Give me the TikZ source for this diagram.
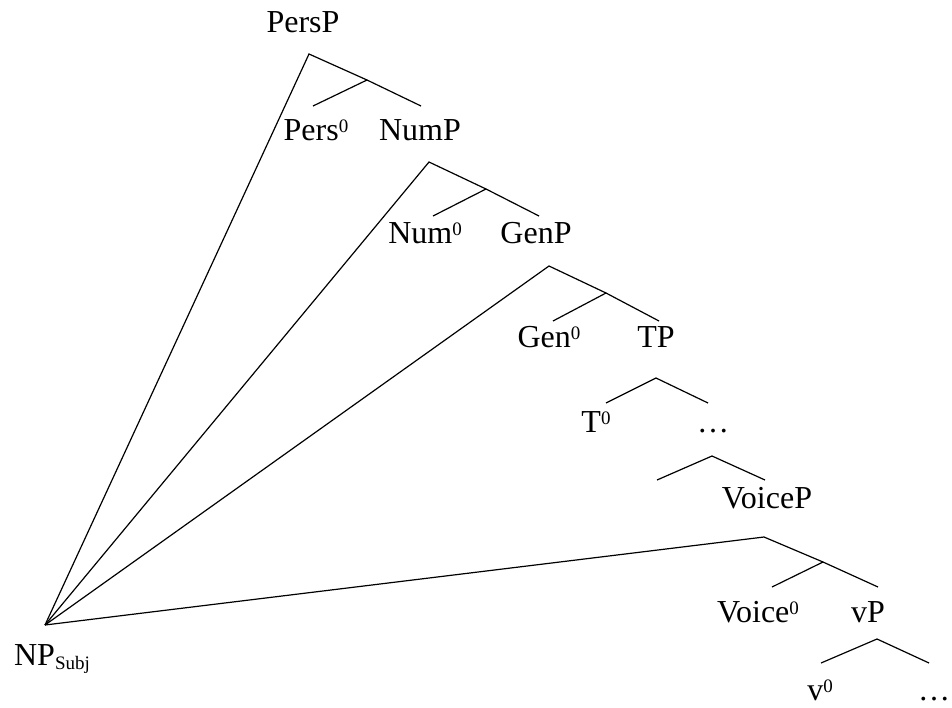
\documentclass[tikz,border=0pt]{standalone}
\usepackage{fontspec}
\setmainfont{Liberation Serif}
\newcommand{\zsup}{\raisebox{8pt}{\fontsize{19}{19}\selectfont 0}}
\newcommand{\subjsub}{\raisebox{-4.5pt}{\fontsize{19}{19}\selectfont Subj}}

\begin{document}
\begin{tikzpicture}[x=1pt,y=-1pt,line width=1.2pt,font=\fontsize{32}{38}\selectfont,
    lab/.style={anchor=base,inner sep=0pt}]
      \useasboundingbox (0,0) rectangle (952,707);
      % labels
      \node[lab] (persp) at (303, 32) {PersP};
      \node[lab] (pers0) at (316, 140) {Pers\zsup};
      \node[lab] (nump) at (420, 140) {NumP};
      \node[lab] (num0) at (425, 243) {Num\zsup};
      \node[lab] (genp) at (536, 243) {GenP};
      \node[lab] (gen0) at (549, 347) {Gen\zsup};
      \node[lab] (tp) at (656, 347) {TP};
      \node[lab] (t0) at (596, 432) {T\zsup};
      \node[lab] (dotsa) at (713, 432) {\dots};
      \node[lab] (voicep) at (767, 508) {VoiceP};
      \node[lab] (voice0) at (758, 622) {Voice\zsup};
      \node[lab] (vp) at (868, 622) {vP};
      \node[lab] (v0) at (820, 700) {v\zsup};
      \node[lab] (dotsb) at (934, 700) {\dots};
      \node[lab] (np) at (52, 665) {NP\subjsub};
      % branch points
      \coordinate (npapex) at (45, 625);
      \coordinate (persA) at (309, 54);
      \coordinate (persB) at (367, 80);
      \coordinate (pers0t) at (313, 106);
      \coordinate (numpt) at (421, 106);
      \coordinate (numA) at (429, 162);
      \coordinate (numB) at (486, 189);
      \coordinate (num0t) at (433, 216);
      \coordinate (genpt) at (539, 216);
      \coordinate (genA) at (549, 266);
      \coordinate (genB) at (606, 293);
      \coordinate (gen0t) at (553, 321);
      \coordinate (tpt) at (659, 321);
      \coordinate (tpB) at (656, 378);
      \coordinate (t0t) at (606, 403);
      \coordinate (dotsat) at (708, 403);
      \coordinate (dotsaB) at (712, 456);
      \coordinate (dotsaL) at (657, 480);
      \coordinate (voicept) at (765, 480);
      \coordinate (voiceA) at (764, 537);
      \coordinate (voiceB) at (823, 562);
      \coordinate (voice0t) at (772, 587);
      \coordinate (vpt) at (878, 587);
      \coordinate (vpB) at (877, 639);
      \coordinate (v0t) at (821, 663);
      \coordinate (dotsbt) at (929, 663);
      % PersP
      \draw (npapex) to (persA) to (persB);
      \draw (pers0t) to (persB) to (numpt);
      % NumP
      \draw (npapex) to (numA) to (numB);
      \draw (num0t) to (numB) to (genpt);
      % GenP
      \draw (npapex) to (genA) to (genB);
      \draw (gen0t) to (genB) to (tpt);
      % TP
      \draw (t0t) to (tpB) to (dotsat);
      \draw (dotsaL) to (dotsaB) to (voicept);
      % VoiceP
      \draw (npapex) to (voiceA) to (voiceB);
      \draw (voice0t) to (voiceB) to (vpt);
      % vP
      \draw (v0t) to (vpB) to (dotsbt);
    \end{tikzpicture}
\end{document}
